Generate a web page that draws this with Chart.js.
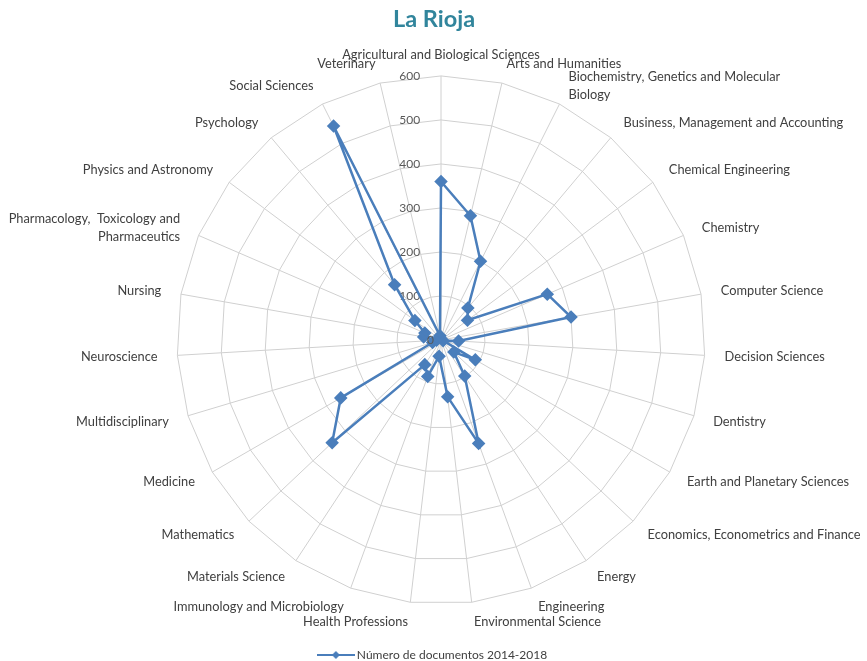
<!DOCTYPE html>
<html>
<head>
<meta charset="utf-8">
<script src="https://cdn.jsdelivr.net/npm/chart.js@4/dist/chart.umd.min.js"></script>
<style>
  html, body { margin: 0; padding: 0; background: #ffffff; }
  #wrap { width: 867px; height: 661px; }
</style>
</head>
<body>
<div id="wrap"><canvas id="radar" width="867" height="661"></canvas></div>
<script>
// Subject areas (clockwise from the top)
const areas = [
  'Agricultural and Biological Sciences',
  'Arts and Humanities',
  ['Biochemistry, Genetics and Molecular', 'Biology'],
  'Business, Management and Accounting',
  'Chemical Engineering',
  'Chemistry',
  'Computer Science',
  'Decision Sciences',
  'Dentistry',
  'Earth and Planetary Sciences',
  'Economics, Econometrics and Finance',
  'Energy',
  'Engineering',
  'Environmental Science',
  'Health Professions',
  'Immunology and Microbiology',
  'Materials Science',
  'Mathematics',
  'Medicine',
  'Multidisciplinary',
  'Neuroscience',
  'Nursing',
  ['Pharmacology,  Toxicology and', 'Pharmaceutics'],
  'Physics and Astronomy',
  'Psychology',
  'Social Sciences',
  'Veterinary'
];

// Documents per subject area, 2014-2018
const documentos = [
  360, 290, 200, 95, 75, 263, 300, 40, 5, 90, 40, 98, 250, 130,
  37, 88, 67, 340, 263, 20, 10, 40, 40, 74, 164, 544, 10
];

// Radial axis ticks
const ticksEje = [0, 100, 200, 300, 400, 500, 600];

const serieNombre = 'Número de documentos 2014-2018';
const azul = '#4a7ebb';
const fuente = 'Lato, "Open Sans", "Liberation Sans", sans-serif';

// Label gap from the outer ring
const GAP = 12;       // usual gap
const GAP_TOP = 2;    // top label (the scale adds room for the tick label)
const GAP_FIT = 4;    // gap used while fitting the two labels next to the bottom

function anguloGrados(scale, i) {
  return Math.round((scale.getIndexAngle(i) * 180 / Math.PI) % 360);
}

function cercaDelFondo(deg) {
  return Math.abs(deg - 180) < 10;
}

// Legend marker: line with a diamond in the middle
function marcadorLeyenda() {
  const c = document.createElement('canvas');
  c.width = 38; c.height = 10;
  const g = c.getContext('2d');
  g.strokeStyle = azul; g.lineWidth = 2;
  g.beginPath(); g.moveTo(0, 5); g.lineTo(38, 5); g.stroke();
  g.fillStyle = azul;
  g.beginPath(); g.moveTo(19, 1); g.lineTo(23, 5); g.lineTo(19, 9); g.lineTo(15, 5); g.closePath(); g.fill();
  return c;
}

// Draws the "0" label at the centre, which the radial scale skips
const ceroCentro = {
  id: 'ceroCentro',
  afterDatasetsDraw(chart) {
    const r = chart.scales.r;
    const ctx = chart.ctx;
    ctx.save();
    ctx.font = '12px ' + fuente;
    ctx.fillStyle = '#595959';
    ctx.textAlign = 'right';
    ctx.textBaseline = 'middle';
    ctx.fillText(String(ticksEje[0]), r.xCenter - 7, r.yCenter);
    ctx.restore();
  }
};

// Side labels are centred vertically on the end of their spoke;
// the two labels next to the bottom get their full gap back after fitting.
function centrarEtiquetas(scale) {
  const items = scale._pointLabelItems || [];
  items.forEach((it, i) => {
    const a = scale.getIndexAngle(i);
    const deg = anguloGrados(scale, i);
    const h = it.bottom - it.top;
    let dx = 0, dy = 0;
    if (i === 0) dy = -2;
    else if (deg < 90 || deg > 270) dy = h / 2;
    else if (deg > 90 && deg < 270) dy = -h / 2;
    if (i !== 0 && cercaDelFondo(deg)) {
      const extra = GAP - GAP_FIT;
      dx += extra * Math.sin(a);
      dy += -extra * Math.cos(a);
    }
    it.x += dx; it.left += dx; it.right += dx;
    it.y += dy; it.top += dy; it.bottom += dy;
  });
}

new Chart(document.getElementById('radar'), {
  type: 'radar',
  data: {
    labels: areas,
    datasets: [{
      label: serieNombre,
      data: documentos,
      borderColor: azul,
      backgroundColor: azul,
      borderWidth: 2.5,
      fill: false,
      tension: 0,
      pointStyle: 'rectRot',
      pointRadius: 5,
      pointHoverRadius: 5,
      pointBackgroundColor: azul,
      pointBorderColor: azul
    }]
  },
  options: {
    responsive: false,
    animation: false,
    layout: { padding: { left: -8, right: -9, top: 0, bottom: -10 } },
    plugins: {
      title: {
        display: true,
        text: 'La Rioja',
        color: '#31859c',
        font: { family: fuente, size: 23.5, weight: 'bold' },
        padding: { top: 5, bottom: -2 }
      },
      legend: {
        position: 'bottom',
        labels: {
          usePointStyle: true,
          pointStyle: marcadorLeyenda(),
          pointStyleWidth: 30,
          color: '#404040',
          font: { family: fuente, size: 12 },
          padding: 1
        }
      },
      tooltip: { enabled: false }
    },
    scales: {
      r: {
        min: ticksEje[0],
        max: ticksEje[ticksEje.length - 1],
        afterBuildTicks: s => { s.ticks = ticksEje.map(v => ({ value: v })); },
        afterFit: centrarEtiquetas,
        grid: { color: '#d0d0d0', lineWidth: 1 },
        angleLines: { color: '#d0d0d0', lineWidth: 1 },
        ticks: {
          color: '#595959',
          font: { family: fuente, size: 12 },
          showLabelBackdrop: false,
          callback: v => String(v) + '\u2007'.repeat(9)
        },
        pointLabels: {
          color: '#404040',
          font: { family: fuente, size: 12.8, lineHeight: 1.4 },
          padding: ctx => {
            if (ctx.index === 0) return GAP_TOP;
            const deg = Math.round(ctx.index * 360 / areas.length);
            return cercaDelFondo(deg) ? GAP_FIT : GAP;
          }
        }
      }
    }
  },
  plugins: [ceroCentro]
});
</script>
</body>
</html>
